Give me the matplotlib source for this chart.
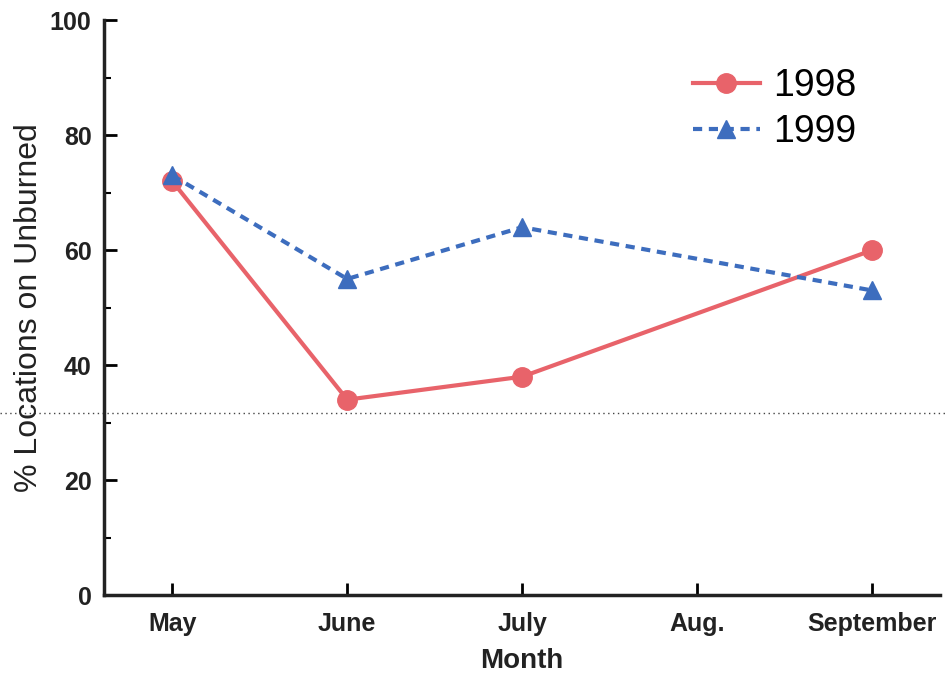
import matplotlib
matplotlib.use('Agg')
import matplotlib.pyplot as plt
from matplotlib.ticker import MultipleLocator

months = ['May', 'June', 'July', 'Aug.', 'September']
pct_1998 = [72, 34, 38, None, 60]
pct_1999 = [73, 55, 64, None, 53]
ref_level = 31.6  # dotted reference line

plt.rcParams['font.family'] = ['Liberation Sans', 'DejaVu Sans']

fig = plt.figure(figsize=(9.46, 6.77), dpi=100)
ax = fig.add_axes([0.110, 0.121, 0.884, 0.849])

x = list(range(len(months)))
x98 = [i for i, v in zip(x, pct_1998) if v is not None]
y98 = [v for v in pct_1998 if v is not None]
x99 = [i for i, v in zip(x, pct_1999) if v is not None]
y99 = [v for v in pct_1999 if v is not None]

ax.plot(x98, y98, color='#E8636A', lw=3, marker='o', markersize=14,
        label='1998', zorder=3)
ax.plot(x99, y99, color='#3D6DBE', lw=3, ls=(0, (2.2, 1.6)), marker='^',
        markersize=13, label='1999', zorder=3)

ax.axhline(ref_level, xmin=-0.125, xmax=1.01, clip_on=False, color='#444444',
           lw=1, ls=(0, (1, 2.5)), zorder=1)

ax.set_xlim(-0.39, 4.39)
ax.set_ylim(0, 100)
ax.set_xticks(x)
ax.set_xticklabels(months, fontsize=18, fontweight='bold', color='#222222')
ax.yaxis.set_major_locator(MultipleLocator(20))
ax.yaxis.set_minor_locator(MultipleLocator(10))
for lab in ax.get_yticklabels():
    lab.set_fontsize(18)
    lab.set_fontweight('bold')
    lab.set_color('#222222')

ax.tick_params(axis='both', which='major', direction='in', length=9, width=2, pad=9)
ax.tick_params(axis='y', which='minor', direction='in', length=5, width=1.5)
ax.tick_params(axis='x', which='major', pad=12)

for s in ['top', 'right']:
    ax.spines[s].set_visible(False)
for s in ['left', 'bottom']:
    ax.spines[s].set_linewidth(2.5)
    ax.spines[s].set_color('#222222')

ax.set_xlabel('Month', fontsize=20, fontweight='bold', color='#222222', labelpad=9)
ax.set_ylabel('% Locations on Unburned', fontsize=23, color='#222222', labelpad=4)

ax.legend(loc='upper right', bbox_to_anchor=(0.94, 0.975), frameon=False,
          fontsize=27, handlelength=1.8, handletextpad=0.35, labelspacing=0.25)

fig.savefig('out.png', dpi=100)
